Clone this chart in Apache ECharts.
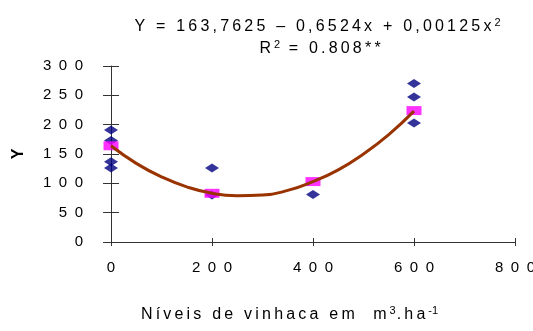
<!DOCTYPE html>
<html>
<head>
<meta charset="utf-8">
<script src="https://cdn.jsdelivr.net/npm/echarts@6/dist/echarts.min.js"></script>
<style>
  html, body { margin: 0; padding: 0; background: #fff; }
  #chart { width: 533px; height: 331px; }
</style>
</head>
<body>
<div id="chart"></div>
<script>
// observed values (diamonds)
const obsX = [0, 0, 0, 0, 200, 200, 400, 600, 600, 600];
const obsY = [191, 173, 137, 126, 126, 80, 81, 270, 247, 203];
// means (squares)
const meanX = [0, 200, 400, 600];
const meanY = [164, 83, 103, 224];
// fitted curve read along x
const fitX = [0, 50, 100, 150, 200, 250, 300, 350, 400, 450, 500, 550, 600];
const fitY = [164, 134, 111, 94, 83, 79, 80, 88, 103, 123, 150, 183, 223];

const xTicks = [0, 200, 400, 600, 800];
const yTicks = [0, 50, 100, 150, 200, 250, 300];

const FONT = 'Liberation Sans, Arial, sans-serif';
const sp = s => String(s).split('').join('\u2002');
const th = s => String(s).split('').join('\u2009');

const chart = echarts.init(document.getElementById('chart'), null, { renderer: 'canvas' });

const axisLine = { lineStyle: { color: '#333', width: 1 } };
const rich = {
  t: { fontFamily: FONT, fontSize: 16, fontWeight: 'normal', color: '#000' },
  s: { fontFamily: FONT, fontSize: 11, fontWeight: 'normal', color: '#000', verticalAlign: 'top', padding: [0, 1, 8, 3] }
};

chart.setOption({
  animation: false,
  backgroundColor: '#fff',
  grid: { left: 111, right: 18, top: 66, bottom: 89, outerBoundsMode: 'none' },
  title: [{
    left: 313, top: 12, textAlign: 'center',
    text: '{t|' + th('Y = 163,7625 \u2013 0,6524x + 0,00125x') + '}{s|2}',
    textStyle: { fontWeight: 'normal', rich: rich }
  }, {
    left: 315, top: 34, textAlign: 'center',
    text: '{t|R}{s|2}{t|' + th(' = 0.808**') + '}',
    textStyle: { fontWeight: 'normal', rich: rich }
  }, {
    left: 285, top: 300, textAlign: 'center',
    text: '{t|' + th('Níveis de vinhaca em  m') + '}{s|3}{t|' + th('.ha') + '}{s|-1}',
    textStyle: { fontWeight: 'normal', rich: rich }
  }],
  xAxis: [{
    type: 'value', min: 0, max: 800, interval: 200,
    axisLine: axisLine,
    axisTick: { show: true, length: 4, lineStyle: { color: '#333' } },
    splitLine: { show: false },
    axisLabel: { margin: 18, fontFamily: FONT, fontSize: 15, color: '#000', formatter: v => sp(v) }
  }, {
    type: 'value', min: 0, max: 800, interval: 200, position: 'bottom', offset: 0,
    axisLine: { show: false },
    axisTick: { show: true, inside: true, length: 4, lineStyle: { color: '#333' } },
    axisLabel: { show: false }, splitLine: { show: false }
  }],
  yAxis: [{
    type: 'value', min: 0, max: 300, interval: 50,
    axisLine: { show: true, lineStyle: { color: '#333', width: 1 } },
    axisTick: { show: true, length: 8, lineStyle: { color: '#333' } },
    splitLine: { show: false },
    axisLabel: { margin: 28, fontFamily: FONT, fontSize: 15, color: '#000', formatter: v => sp(v) },
    name: 'Y', nameLocation: 'middle', nameGap: 84, nameRotate: 90,
    nameTextStyle: { fontFamily: FONT, fontSize: 16, fontWeight: 'bold', color: '#000' }
  }, {
    type: 'value', min: 0, max: 300, interval: 50, position: 'left', offset: 0,
    axisLine: { show: false },
    axisTick: { show: true, inside: true, length: 8, lineStyle: { color: '#333' } },
    axisLabel: { show: false }, splitLine: { show: false }
  }],
  series: [{
    type: 'scatter',
    symbol: 'diamond', symbolSize: [14, 9],
    itemStyle: { color: '#000080' },
    data: obsX.map((x, i) => [x, obsY[i]]),
    z: 2
  }, {
    type: 'line',
    smooth: true, symbol: 'none',
    lineStyle: { color: '#993300', width: 3 },
    data: fitX.map((x, i) => [x, fitY[i]]),
    z: 3
  }, {
    type: 'scatter',
    symbol: 'rect', symbolSize: [15, 9],
    itemStyle: { color: '#FF00FF' },
    data: meanX.map((x, i) => [x, meanY[i]]),
    z: 2
  }]
});
</script>
</body>
</html>
